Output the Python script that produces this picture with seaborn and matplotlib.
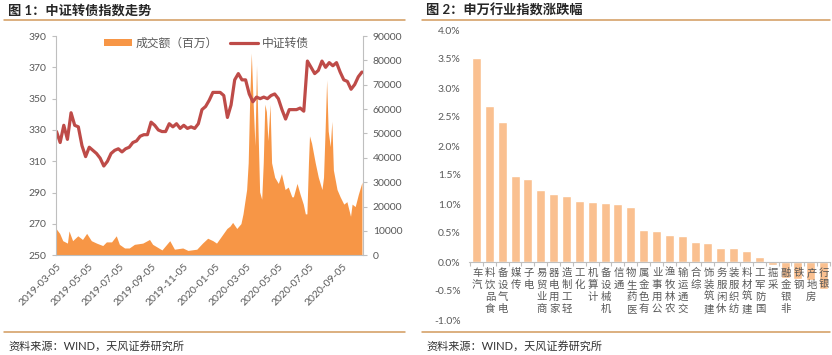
import numpy as np
import pandas as pd
import matplotlib
matplotlib.use("Agg")
import matplotlib.pyplot as plt
from matplotlib.patches import Patch
from matplotlib.lines import Line2D
import seaborn as sns

# ---- 图1 data: 中证转债 (weekly close) and 成交额 (百万)
index_start = "2019-03-05"
index_values = [329, 322, 333, 324, 341, 333, 332, 320, 313, 319,
                317, 315, 312, 307, 310, 315, 317, 318, 316, 318,
                319, 322, 323, 326, 327, 327, 335, 333, 330, 329,
                329, 334, 332, 334, 331, 333, 331, 332, 331, 334,
                343, 345, 349, 354, 354, 354, 352, 338, 346, 362,
                366, 362, 362, 353, 348, 351, 350, 351, 350, 352,
                353, 350, 343, 337, 343, 343, 343, 344, 342, 374,
                370, 366, 368, 374, 370, 373, 371, 373, 367, 362,
                361, 356, 359, 364, 367]

volume_dates = ["2019-03-04", "2019-03-11", "2019-03-17", "2019-03-26", "2019-03-29",
                "2019-04-05", "2019-04-15", "2019-04-24", "2019-05-02", "2019-05-11",
                "2019-05-21", "2019-06-02", "2019-06-09", "2019-06-19", "2019-06-28",
                "2019-07-04", "2019-07-14", "2019-07-23", "2019-08-02", "2019-08-18",
                "2019-08-31", "2019-09-06", "2019-09-24", "2019-10-05", "2019-10-09",
                "2019-10-18", "2019-11-03", "2019-11-13", "2019-11-30", "2019-12-11",
                "2019-12-21", "2019-12-31", "2020-01-07", "2020-01-17", "2020-01-27",
                "2020-02-02", "2020-02-07", "2020-02-15", "2020-02-23", "2020-02-27",
                "2020-03-05", "2020-03-08", "2020-03-11", "2020-03-14", "2020-03-17",
                "2020-03-21", "2020-03-24", "2020-03-27", "2020-03-30", "2020-04-03",
                "2020-04-06", "2020-04-09", "2020-04-12", "2020-04-15", "2020-04-19",
                "2020-04-22", "2020-04-28", "2020-05-05", "2020-05-11", "2020-05-18",
                "2020-05-24", "2020-05-31", "2020-06-03", "2020-06-10", "2020-06-16",
                "2020-06-22", "2020-06-26", "2020-06-29", "2020-07-02", "2020-07-04",
                "2020-07-08", "2020-07-15", "2020-07-21", "2020-07-28", "2020-07-31",
                "2020-08-03", "2020-08-06", "2020-08-09", "2020-08-13", "2020-08-16",
                "2020-08-19", "2020-08-26", "2020-09-01", "2020-09-08", "2020-09-14",
                "2020-09-21", "2020-09-24", "2020-09-30", "2020-10-06", "2020-10-13"]
volume_values = [11000, 9000, 6000, 5000, 10000, 6000, 8000, 6500, 9000, 6000,
                 5000, 4000, 5500, 5500, 8000, 4500, 3000, 3000, 4500, 5000,
                 6500, 4500, 2200, 5000, 6000, 2500, 3000, 2000, 2500, 5000,
                 7000, 6000, 5000, 8000, 11000, 12000, 13500, 11000, 13000, 17000,
                 27000, 38000, 65000, 83000, 65000, 45000, 78000, 51000, 26000, 23000,
                 38000, 62000, 59000, 47000, 62000, 38000, 32000, 29500, 33500, 27000,
                 28000, 24000, 24000, 29500, 25000, 21000, 17000, 17000, 38000, 49000,
                 46000, 38000, 32000, 27000, 32000, 51000, 72000, 51000, 44600, 55000,
                 35000, 27000, 24000, 21000, 22000, 16000, 21000, 20000, 25000, 30000]

date_ticks = ["2019-03-05", "2019-05-05", "2019-07-05", "2019-09-05", "2019-11-05",
              "2020-01-05", "2020-03-05", "2020-05-05", "2020-07-05", "2020-09-05"]

# ---- 图2 data: 申万行业指数涨跌幅 (%)
industries = ["汽车", "食品饮料", "电气设备", "传媒", "电子", "商业贸易", "家用电器",
              "轻工制造", "化工", "计算机", "机械设备", "通信", "医药生物", "有色金属",
              "公用事业", "农林牧渔", "交通运输", "综合", "建筑装饰", "休闲服务",
              "纺织服装", "建筑材料", "国防军工", "采掘", "非银金融", "钢铁", "房地产", "银行"]
changes = [3.52, 2.69, 2.42, 1.48, 1.43, 1.24, 1.17, 1.13, 1.05, 1.04,
           1.01, 1.00, 0.94, 0.55, 0.53, 0.46, 0.45, 0.35, 0.32, 0.25,
           0.24, 0.19, 0.08, -0.05, -0.27, -0.30, -0.31, -0.47]

ORANGE = "#F79646"
RED = "#BE4B48"
BAR = "#FAC090"
RULE = "#D29A5C"
GRID_GRAY = "#BFBFBF"
TXT_GRAY = "#595959"

sns.set_theme(style="white")
plt.rcParams["font.family"] = ["Lato", "Noto Sans CJK SC", "DejaVu Sans"]

W, H = 832, 355
fig = plt.figure(figsize=(W / 100, H / 100), dpi=100)

# ---------------- left panel ----------------
ax1 = fig.add_axes([56 / W, 1 - 255.3 / H, 307 / W, 219.3 / H])
ax1r = ax1.twinx()

vol_x = pd.to_datetime(volume_dates)
ax1r.fill_between(vol_x, volume_values, 0, color=ORANGE, lw=0)
idx_x = pd.date_range(index_start, periods=len(index_values), freq="7D")
sns.lineplot(x=idx_x, y=index_values, ax=ax1, color=RED, lw=2.3)

ax1.set_zorder(ax1r.get_zorder() + 1)
ax1.patch.set_visible(False)

ax1.set_ylim(250, 390)
ax1.set_yticks(range(250, 391, 20))
ax1r.set_ylim(0, 90000)
ax1r.set_yticks(range(0, 90001, 10000))
ax1.set_xlim(pd.Timestamp("2019-03-04"), pd.Timestamp("2020-10-15"))
ax1.set_xticks(pd.to_datetime(date_ticks))
ax1.set_xticklabels(date_ticks, rotation=45, ha="right", rotation_mode="anchor")
ax1.set_xlabel("")
ax1.set_ylabel("")

for a in (ax1, ax1r):
    for s in a.spines.values():
        s.set_color(GRID_GRAY)
        s.set_linewidth(0.8)
    a.spines["top"].set_visible(False)
ax1.spines["right"].set_visible(False)
ax1r.spines["left"].set_visible(False)
ax1r.spines["bottom"].set_visible(False)
ax1.tick_params(axis="y", length=3, width=0.8, color=GRID_GRAY, labelcolor=TXT_GRAY,
                labelsize=7.5, pad=4)
ax1.tick_params(axis="x", length=0, labelcolor=TXT_GRAY, labelsize=7.5, pad=5)
ax1r.tick_params(axis="y", length=3, width=0.8, color=GRID_GRAY, labelcolor=TXT_GRAY,
                 labelsize=7.5, pad=4)

handles = [Patch(facecolor=ORANGE, edgecolor="none"),
           Line2D([], [], color=RED, lw=2.3)]
ax1.legend(handles, ["成交额（百万）", "中证转债"], loc="center",
           bbox_to_anchor=(0.49, 0.968), ncol=2, frameon=False,
           fontsize=8.5, labelcolor=TXT_GRAY, handlelength=2.4,
           handleheight=0.6, columnspacing=1.0, handletextpad=0.3)

# ---------------- right panel ----------------
ax2 = fig.add_axes([469 / W, 1 - 320 / H, 361 / W, 290 / H])
sns.barplot(x=industries, y=changes, color=BAR, saturation=1, width=0.7, ax=ax2)
ax2.set_ylim(-1.0, 4.0)
ax2.set_yticks(np.arange(-1.0, 4.01, 0.5))
ax2.set_yticklabels([f"{v:.1f}%" for v in np.arange(-1.0, 4.01, 0.5)])
ax2.set_xlim(-0.58, 27.45)
ax2.set_xticks([])
ax2.set_xticks(np.arange(-0.5, len(industries), 1), minor=True)
ax2.set_xlabel("")
ax2.set_ylabel("")
for s in ax2.spines.values():
    s.set_visible(False)
ax2.spines["bottom"].set_visible(True)
ax2.spines["bottom"].set_position(("data", 0))
ax2.spines["bottom"].set_color(GRID_GRAY)
ax2.spines["bottom"].set_linewidth(0.8)
ax2.tick_params(axis="y", length=0, labelcolor=TXT_GRAY, labelsize=7.5, pad=6)
ax2.tick_params(axis="x", which="minor", length=3, width=0.8, color=GRID_GRAY,
                direction="out", bottom=True)

for i, name in enumerate(industries):
    ax2.text(i + 0.05, -0.1, "\n".join(reversed(name)), ha="center", va="top",
             fontsize=7.5, color=TXT_GRAY, linespacing=1.25,
             family=["Noto Sans CJK SC", "DejaVu Sans"])

# ---------------- titles, rules, sources ----------------
for x0, x1, title in [(4, 405, "图 1：中证转债指数走势"), (422, 830, "图 2：申万行业指数涨跌幅")]:
    fig.text((x0 + 4) / W, 1 - 10 / H, title, ha="left", va="center", fontsize=9.5,
             fontweight="bold", color="#262626")
    fig.add_artist(Line2D([x0 / W, x1 / W], [1 - 19.5 / H] * 2, color=RULE, lw=1.1,
                          transform=fig.transFigure))
    fig.add_artist(Line2D([x0 / W, x1 / W], [1 - 331.5 / H] * 2, color=RULE, lw=1.1,
                          transform=fig.transFigure))
    fig.text((x0 + 4) / W, 1 - 346.5 / H, "资料来源：WIND，天风证券研究所", ha="left",
             va="center", fontsize=8, color="#333333")

fig.savefig("out.png", dpi=100)
